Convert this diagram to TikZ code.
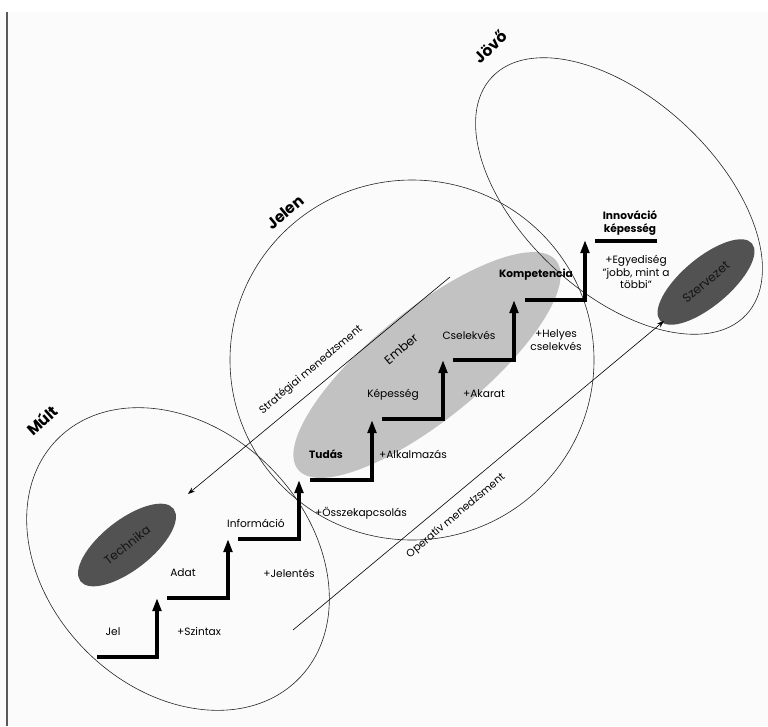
\documentclass[tikz,border=0pt]{standalone}
\usepackage{fontspec}
\setmainfont{Poppins}
\usetikzlibrary{arrows.meta}

\definecolor{paper}{HTML}{FBFBFB}
\definecolor{lightblob}{HTML}{C2C2C2}
\definecolor{darkblob}{HTML}{525252}

\begin{document}
\begin{tikzpicture}[x=1pt, y=-1pt,
    lbl/.style={font=\fontsize{10.6}{12.5}\selectfont, align=center, inner sep=1pt},
    boldlbl/.style={lbl, font=\fontsize{10.6}{12.5}\selectfont\bfseries},
    bloblbl/.style={font=\fontsize{12.2}{14}\selectfont, inner sep=1pt},
    era/.style={font=\fontsize{15.5}{17}\selectfont\bfseries, inner sep=1pt},
    stair/.style={line width=3.6pt, -{Triangle[length=13pt,width=8.5pt]}},
    zone/.style={line width=0.6pt, black!85},
    mgmt/.style={line width=0.6pt, -{Stealth[length=7pt,width=5pt]}}]
    \useasboundingbox (0,0) rectangle (768,726);
    \fill[white] (0,0) rectangle (768,726);
    \fill[paper] (0,12) rectangle (768,726);
    \draw[line width=2pt, black!65] (7,12) -- (7,726);

    % filled blobs
    \fill[lightblob, rotate around={39:(427,365)}] (427,365) ellipse [x radius=166pt, y radius=55pt];
    \fill[darkblob, rotate around={38:(127,545)}] (127,545) ellipse [x radius=59pt, y radius=25pt];
    \fill[darkblob, rotate around={40:(706,282)}] (706,282) ellipse [x radius=60pt, y radius=24pt];

    % time zones
    \draw[zone, rotate around={-45:(178,559)}] (178,559) ellipse [x radius=170pt, y radius=130pt];
    \draw[zone] (412,360) ellipse [x radius=182pt, y radius=180pt];
    \draw[zone, rotate around={-43:(619,196)}] (619,196) ellipse [x radius=174pt, y radius=97pt];

    % management lines
    \coordinate (strat-a) at (450,277);
    \coordinate (strat-b) at (188,494);
    \coordinate (oper-a) at (293,630);
    \coordinate (oper-b) at (664,321);
    \draw[mgmt] (strat-a) -- (strat-b);
    \draw[mgmt] (oper-a) -- (oper-b);

    % stairs
    \draw[stair] (97,657) -| (157,598);
    \draw[stair] (167,598) -| (228,539);
    \draw[stair] (238,539) -| (299,480);
    \draw[stair] (310,480) -| (372,420);
    \draw[stair] (382,419) -| (443,360);
    \draw[stair] (453,360) -| (514,300);
    \draw[stair] (525,300) -| (585,240);
    \draw[line width=3.4pt] (595,241) -- (657,241);

    % labels
    \node[lbl] (jel) at (113,632) {Jel};
    \node[lbl] (szintax) at (199,632) {+Szintax};
    \node[lbl] (adat) at (183,573) {Adat};
    \node[lbl] (jelentes) at (289,573) {+Jelentés};
    \node[lbl] (info) at (256,523) {Információ};
    \node[lbl] (osszek) at (361,513) {+Összekapcsolás};
    \node[boldlbl] (tudas) at (326,454) {Tudás};
    \node[lbl] (alkalm) at (413,454) {+Alkalmazás};
    \node[lbl] (kepesseg) at (393,395) {Képesség};
    \node[lbl] (akarat) at (484,394) {+Akarat};
    \node[lbl] (cselekves) at (469,335) {Cselekvés};
    \node[lbl] (helyes) at (556,340) {+Helyes\\cselekvés};
    \node[boldlbl] (kompetencia) at (536,275) {Kompetencia};
    \node[boldlbl] (innovacio) at (630,223) {Innováció\\képesség};
    \node[lbl] (egyediseg) at (636,272) {+Egyediség\\"jobb, mint a\\többi"};

    \node[bloblbl, rotate=40] (ember) at (401,349) {Ember};
    \node[bloblbl, rotate=38, text=black!92] (technika) at (127,545) {Technika};
    \node[bloblbl, rotate=40, text=black!92] (szervezet) at (706,282) {Szervezet};
    \node[lbl, rotate=40] (strat) at (311,370) {Stratégiai menedzsment};
    \node[lbl, rotate=40] (oper) at (456,516) {Operatív menedzsment};

    \node[era, rotate=42] (mult) at (42,420) {Múlt};
    \node[era, rotate=40] (jelen) at (285,212) {Jelen};
    \node[era, rotate=45] (jovo) at (490,47) {Jövő};
\end{tikzpicture}
\end{document}
